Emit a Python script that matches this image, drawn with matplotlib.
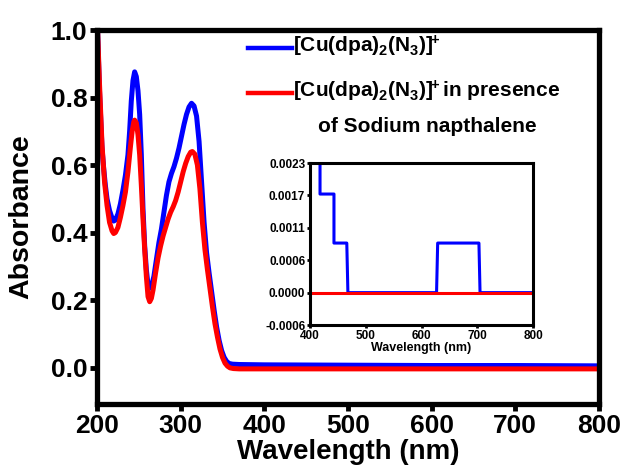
import numpy as np
import matplotlib
matplotlib.use('Agg')
import matplotlib.pyplot as plt
from matplotlib.lines import Line2D

plt.rcParams['font.family'] = ['Liberation Sans', 'DejaVu Sans']
plt.rcParams['font.weight'] = 'bold'
plt.rcParams['mathtext.fontset'] = 'custom'
plt.rcParams['mathtext.rm'] = 'Liberation Sans:bold'
plt.rcParams['mathtext.it'] = 'Liberation Sans:bold'
plt.rcParams['mathtext.bf'] = 'Liberation Sans:bold'

# --- main spectra ---
wl_blue = [200, 203, 206, 208, 210, 212, 215, 218, 220, 222, 225, 228, 231, 234, 237,
           239, 241, 243, 245, 247, 249, 251, 253, 255, 257, 259, 261, 263, 265, 268,
           271, 274, 277, 280, 283, 286, 289, 292, 295, 298, 301, 304, 307, 310, 313,
           316, 319, 322, 325, 328, 331, 334, 337, 340, 343, 346, 349, 352, 355, 358,
           362, 370, 400, 500, 600, 700, 800]
abs_blue = [1.05, 0.82, 0.65, 0.59, 0.54, 0.50, 0.465, 0.443, 0.434, 0.437, 0.455, 0.485,
            0.525, 0.57, 0.63, 0.70, 0.79, 0.85, 0.876, 0.862, 0.82, 0.75, 0.63, 0.47,
            0.36, 0.29, 0.245, 0.235, 0.24, 0.27, 0.32, 0.37, 0.41, 0.46, 0.51, 0.55,
            0.575, 0.595, 0.62, 0.65, 0.685, 0.72, 0.75, 0.772, 0.783, 0.775, 0.745,
            0.67, 0.55, 0.43, 0.34, 0.28, 0.225, 0.17, 0.12, 0.08, 0.05, 0.03, 0.018,
            0.012, 0.010, 0.009, 0.008, 0.007, 0.006, 0.006, 0.005]

wl_red = [200, 203, 206, 209, 212, 215, 218, 220, 222, 225, 228, 231, 234, 237, 240,
          242, 244, 245, 247, 249, 251, 253, 255, 257, 259, 261, 263, 265, 267, 270,
          273, 276, 279, 282, 285, 288, 291, 294, 297, 300, 303, 306, 309, 312, 314,
          317, 320, 323, 326, 329, 332, 335, 338, 341, 344, 347, 350, 353, 356, 359,
          363, 370, 400, 500, 600, 700, 800]
abs_red = [1.05, 0.84, 0.66, 0.55, 0.48, 0.43, 0.405, 0.397, 0.40, 0.415, 0.445, 0.48,
           0.52, 0.58, 0.655, 0.70, 0.728, 0.733, 0.725, 0.69, 0.63, 0.54, 0.44, 0.35,
           0.27, 0.21, 0.195, 0.205, 0.23, 0.28, 0.325, 0.36, 0.39, 0.415, 0.44, 0.46,
           0.476, 0.495, 0.52, 0.55, 0.58, 0.605, 0.625, 0.638, 0.64, 0.632, 0.60, 0.53,
           0.43, 0.35, 0.29, 0.235, 0.18, 0.13, 0.09, 0.055, 0.03, 0.013, 0.004, -0.001,
           -0.003, -0.004, -0.004, -0.004, -0.004, -0.004, -0.004]

# --- inset (zoomed baseline) ---
inset_wl_blue = [418, 418, 443, 443, 466, 468, 627, 629, 703, 705, 800]
inset_abs_blue = [0.0030, 0.00175, 0.00175, 0.00088, 0.00088, 0.0, 0.0, 0.00088, 0.00088, 0.0, 0.0]
inset_wl_red = [400, 800]
inset_abs_red = [0.0, 0.0]

inset_yticks = [-0.000575, 0.0, 0.000575, 0.00115, 0.001725, 0.0023]
inset_ylabels = ['-0.0006', '0.0000', '0.0006', '0.0011', '0.0017', '0.0023']

label_blue = r'$\mathrm{[Cu(dpa)_2(N_3)]^{\!\!+}}$'
label_red = r'$\mathrm{[Cu(dpa)_2(N_3)]^{\!\!+}}$in presence'
label_red2 = 'of Sodium napthalene'

fig = plt.figure(figsize=(6.27, 4.74), dpi=100)
ax = fig.add_axes([0.1547, 0.1477, 0.8006, 0.789])

ax.plot(wl_blue, abs_blue, color='#0000ff', lw=3.6, solid_capstyle='round', solid_joinstyle='round')
ax.plot(wl_red, abs_red, color='#ff0000', lw=3.6, solid_capstyle='round', solid_joinstyle='round')
ax.set_xlim(200, 800)
ax.set_ylim(-0.108, 1.0)
ax.set_xticks([200, 300, 400, 500, 600, 700, 800])
ax.set_yticks([0.0, 0.2, 0.4, 0.6, 0.8, 1.0])
ax.set_yticklabels(['0.0', '0.2', '0.4', '0.6', '0.8', '1.0'])
for s in ax.spines.values():
    s.set_linewidth(3.8)
ax.tick_params(direction='out', length=5, width=3.5, labelsize=19, pad=2)
for t in ax.get_xticklabels() + ax.get_yticklabels():
    t.set_fontweight('bold')
ax.set_xlabel('Wavelength (nm)', fontsize=20, fontweight='bold', labelpad=1)
ax.set_ylabel('Absorbance', fontsize=20.5, fontweight='bold')
ax.yaxis.set_label_coords(-0.125, 0.5)

# legend drawn by hand
fig.add_artist(Line2D([248 / 627, 292 / 627], [1 - 48 / 474, 1 - 48 / 474],
                      color='#0000ff', lw=3.2))
fig.add_artist(Line2D([248 / 627, 292 / 627], [1 - 93 / 474, 1 - 93 / 474],
                      color='#ff0000', lw=3.2))
fig.text(293 / 627, 1 - 46 / 474, label_blue, fontsize=15, fontweight='bold', va='center')
fig.text(293 / 627, 1 - 91 / 474, label_red, fontsize=15, fontweight='bold', va='center')
fig.text(427 / 627, 1 - 126 / 474, label_red2, fontsize=15, fontweight='bold',
         va='center', ha='center')

# inset
axi = fig.add_axes([0.4944, 0.3143, 0.3557, 0.3417])
axi.plot(inset_wl_blue, inset_abs_blue, color='#0000ff', lw=2.2)
axi.plot(inset_wl_red, inset_abs_red, color='#ff0000', lw=2.2)
axi.set_xlim(400, 800)
axi.set_ylim(-0.000575, 0.0023)
axi.set_xticks([400, 500, 600, 700, 800])
axi.set_yticks(inset_yticks)
axi.set_yticklabels(inset_ylabels)
for s in axi.spines.values():
    s.set_linewidth(2.2)
axi.tick_params(direction='out', length=2.5, width=2, labelsize=8.5, pad=1)
for t in axi.get_xticklabels() + axi.get_yticklabels():
    t.set_fontweight('bold')
axi.set_xlabel('Wavelength (nm)', fontsize=9, fontweight='bold', labelpad=0)

fig.savefig('out.png', dpi=100)
